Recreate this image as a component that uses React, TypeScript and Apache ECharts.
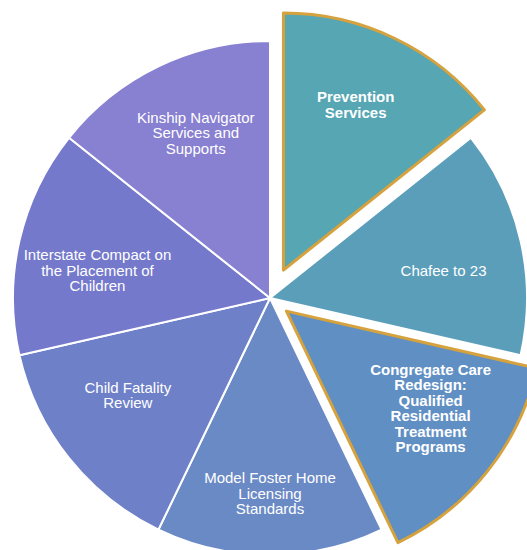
import { useEffect, useRef } from 'react';
import * as echarts from 'echarts';

// ---- data ----
const categories = [
  'Prevention\nServices',
  'Chafee to 23',
  'Congregate Care\nRedesign:\nQualified\nResidential\nTreatment\nPrograms',
  'Model Foster Home\nLicensing\nStandards',
  'Child Fatality\nReview',
  'Interstate Compact on\nthe Placement of\nChildren',
  'Kinship Navigator\nServices and\nSupports',
];
const shares = [1, 1, 1, 1, 1, 1, 1];
const featured = [true, false, true, false, false, false, false];

// ---- styles ----
const sliceColors = ['#56A6B3', '#5B9EBA', '#5F8FC3', '#6A8AC6', '#6E80C8', '#7579CC', '#8880D1'];
const GOLD = '#D6A23E';
const FONT = '"Liberation Sans", Arial, sans-serif';
const CX = 270;
const CY = 298;
const R = 257;
const LABEL_R = 175;
const explodeOffset = [31, 0, 21, 0, 0, 0, 0];
const labelNudge = [[-5, -5], [0, 12], [5, -14], [0, 17], [-3, -14], [1, 12], [3, -5]];

const total = shares.reduce((a, b) => a + b, 0);
function midAngle(i: number) {
  const before = shares.slice(0, i).reduce((a, b) => a + b, 0);
  return 90 - ((before + shares[i] / 2) / total) * 360;
}

function buildSeries() {
  const groups: { members: number[]; off: number; dir: number }[] = [];
  groups.push({ members: categories.map((_, i) => i).filter((i) => !explodeOffset[i]), off: 0, dir: 0 });
  categories.forEach((_, i) => {
    if (explodeOffset[i]) groups.push({ members: [i], off: explodeOffset[i], dir: midAngle(i) });
  });
  const clear = { color: 'rgba(0,0,0,0)', borderColor: 'rgba(0,0,0,0)', borderWidth: 0 };
  const slices: any[] = [];
  const labels: any[] = [];
  groups.forEach((g) => {
    const rad = (g.dir * Math.PI) / 180;
    const center = [CX + g.off * Math.cos(rad), CY - g.off * Math.sin(rad)];
    const common = {
      type: 'pie',
      startAngle: 90,
      clockwise: true,
      center,
      silent: true,
      avoidLabelOverlap: false,
      emphasis: { disabled: true },
      labelLine: { show: false },
    };
    slices.push({
      ...common,
      radius: [0, R],
      label: { show: false },
      data: categories.map((name, i) => ({
        name,
        value: shares[i],
        itemStyle: g.members.includes(i)
          ? {
              color: sliceColors[i],
              borderColor: featured[i] ? GOLD : '#ffffff',
              borderWidth: featured[i] ? 3 : 2,
            }
          : clear,
      })),
    });
    labels.push({
      ...common,
      radius: [LABEL_R - 25, LABEL_R + 25],
      itemStyle: clear,
      label: {
        show: true,
        position: 'inside',
        color: '#ffffff',
        fontFamily: FONT,
        fontSize: 15,
        lineHeight: 15.5,
        textBorderWidth: 0,
        align: 'center',
      },
      labelLayout: (p: any) => ({ dx: labelNudge[p.dataIndex][0], dy: labelNudge[p.dataIndex][1] }),
      data: categories.map((name, i) => ({
        name,
        value: shares[i],
        label: g.members.includes(i)
          ? { show: true, fontWeight: featured[i] ? 'bold' : 'normal' }
          : { show: false },
      })),
    });
  });
  return [...slices, ...labels];
}

export default function App() {
  const ref = useRef<HTMLDivElement>(null);
  useEffect(() => {
    if (!ref.current) return;
    document.body.style.margin = '0';
    const chart = echarts.init(ref.current, undefined, { renderer: 'svg' });
    chart.setOption({
      animation: false,
      backgroundColor: '#ffffff',
      tooltip: { show: false },
      series: buildSeries(),
    });
    return () => chart.dispose();
  }, []);
  return <div ref={ref} style={{ width: 527, height: 550, background: '#fff' }} />;
}
